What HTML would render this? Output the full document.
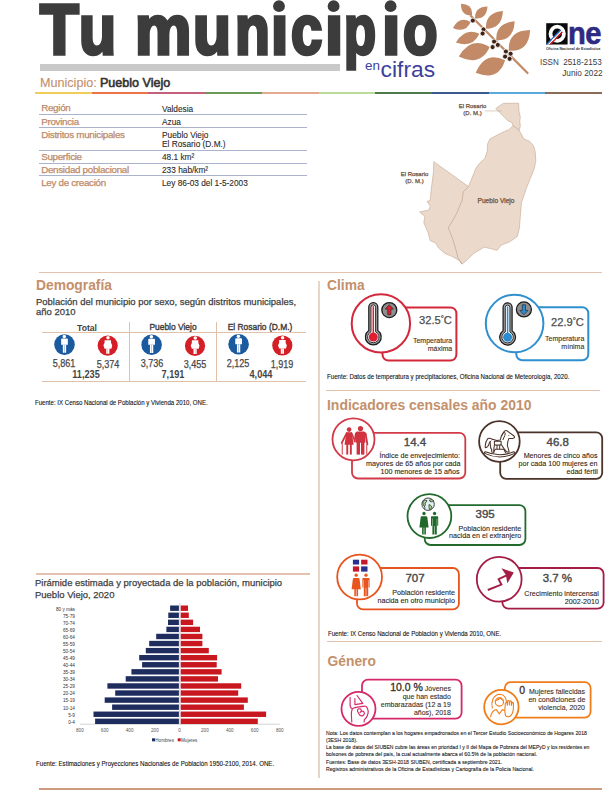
<!DOCTYPE html>
<html lang="es"><head><meta charset="utf-8"><title>Tu municipio en cifras - Pueblo Viejo</title>
<style>
html,body{margin:0;padding:0;background:#fff}
#pg{position:relative;width:612px;height:792px;overflow:hidden;background:#fff;font-family:"Liberation Sans", Arial, sans-serif}
.t{position:absolute;white-space:nowrap;line-height:1}
.tl{position:absolute;top:-5.9px;font-size:71px;line-height:1;font-weight:bold;color:#3c3c3c;-webkit-text-stroke:3.6px #3c3c3c;transform-origin:0 50%}
svg{overflow:visible}
</style></head><body><div id="pg">
<div style="position:absolute;left:0;top:0;width:612px;height:80px"><span class="tl" style="left:40.49px;transform:scaleX(0.893)">T</span><span class="tl" style="left:78.93px;transform:scaleX(0.855)">u</span><span class="tl" style="left:134.72px;transform:scaleX(0.893)">m</span><span class="tl" style="left:193.27px;transform:scaleX(0.876)">u</span><span class="tl" style="left:234.59px;transform:scaleX(0.803)">n</span><span class="tl" style="left:270.67px;transform:scaleX(0.877);clip-path:inset(20.4px -6px -20px -6px)">i</span><span class="tl" style="left:290.71px;transform:scaleX(0.792)">c</span><span class="tl" style="left:324.83px;transform:scaleX(0.923);clip-path:inset(20.4px -6px -20px -6px)">i</span><span class="tl" style="left:344.18px;transform:scaleX(0.738)">p</span><span class="tl" style="left:381.71px;transform:scaleX(0.931);clip-path:inset(20.4px -6px -20px -6px)">i</span><span class="tl" style="left:403.2px;transform:scaleX(0.795)">o</span></div>
<svg style="position:absolute;left:0;top:0" width="612" height="20"><g fill="#3c3c3c"><circle cx="279" cy="6.2" r="5.9"/><circle cx="333.6" cy="6.2" r="5.9"/><circle cx="390.6" cy="6.2" r="5.9"/></g></svg>
<div style="position:absolute;left:39.5px;top:63.5px;width:300px;height:7px;background:#c9c9c9"></div>
<div class="t" style="top:59.00px;font-size:13.5px;color:#3d3f9c;left:365.00px;">en</div>
<div class="t" style="top:58.00px;font-size:22.8px;color:#3d3f9c;left:380.60px;">cifras</div>
<div class="t" style="top:77.00px;font-size:12.6px;color:#c28f6b;left:40.00px;-webkit-text-stroke:0.1px currentColor;">Municipio:</div>
<div class="t" style="top:77.00px;font-size:12.6px;color:#333;left:100.40px;transform:scaleX(0.995);transform-origin:left 50%;-webkit-text-stroke:0.6px currentColor;">Pueblo Viejo</div>
<div style="position:absolute;left:35.00px;top:92.3px;width:56.8px;height:1.6px;background:#f0cc58"></div>
<div style="position:absolute;left:91.70px;top:92.3px;width:56.8px;height:1.6px;background:#ee7448"></div>
<div style="position:absolute;left:148.40px;top:92.3px;width:56.8px;height:1.6px;background:#c3607c"></div>
<div style="position:absolute;left:205.10px;top:92.3px;width:56.8px;height:1.6px;background:#6a9a56"></div>
<div style="position:absolute;left:261.80px;top:92.3px;width:56.8px;height:1.6px;background:#e3aa92"></div>
<div style="position:absolute;left:318.50px;top:92.3px;width:56.8px;height:1.6px;background:#b9dc98"></div>
<div style="position:absolute;left:375.20px;top:92.3px;width:56.8px;height:1.6px;background:#4b7a4b"></div>
<div style="position:absolute;left:431.90px;top:92.3px;width:56.8px;height:1.6px;background:#3b5a8c"></div>
<div style="position:absolute;left:488.60px;top:92.3px;width:56.8px;height:1.6px;background:#5aaadb"></div>
<div style="position:absolute;left:545.30px;top:92.3px;width:56.8px;height:1.6px;background:#8b6a58"></div>
<svg style="position:absolute;left:0;top:0" width="612" height="100"><line x1="471" y1="16" x2="527.5" y2="73" stroke="#c28a66" stroke-width="2.2" stroke-linecap="round"/><path fill="#c28a66" d="M472.0,15.4 Q473.4,4.2 461.0,3.7 Q460.7,16.1 472.0,15.4Z M475.0,18.4 Q486.6,19.4 487.5,6.6 Q474.7,6.8 475.0,18.4Z M470.6,22.0 Q459.7,15.7 452.9,27.9 Q465.6,33.6 470.6,22.0Z M486.0,28.7 Q502.1,28.8 502.9,11.0 Q485.1,12.6 486.0,28.7Z M479.4,33.8 Q464.9,27.2 455.9,42.6 Q472.8,48.3 479.4,33.8Z M496.3,40.4 Q513.9,40.8 514.7,21.3 Q495.3,22.8 496.3,40.4Z M489.7,47.0 Q470.9,35.6 458.8,56.6 Q480.7,67.0 489.7,47.0Z M508.8,50.7 Q529.0,52.4 530.1,30.1 Q507.8,30.5 508.8,50.7Z M505.1,60.3 Q485.2,50.1 475.7,72.8 Q498.6,81.7 505.1,60.3Z"/><circle cx="472.8" cy="20.6" r="2.5" fill="#3f2416" stroke="#fff" stroke-width="0.8"/><circle cx="483.5" cy="29.4" r="2.5" fill="#3f2416" stroke="#fff" stroke-width="0.8"/><circle cx="482.6" cy="33.5" r="2.5" fill="#3f2416" stroke="#fff" stroke-width="0.8"/><circle cx="494.1" cy="41.6" r="2.5" fill="#3f2416" stroke="#fff" stroke-width="0.8"/><circle cx="497.8" cy="44.9" r="2.5" fill="#3f2416" stroke="#fff" stroke-width="0.8"/><circle cx="492.6" cy="47.1" r="2.5" fill="#3f2416" stroke="#fff" stroke-width="0.8"/><circle cx="505.9" cy="51.5" r="2.5" fill="#3f2416" stroke="#fff" stroke-width="0.8"/><circle cx="510.6" cy="53.7" r="2.5" fill="#3f2416" stroke="#fff" stroke-width="0.8"/><circle cx="505.1" cy="56.6" r="2.5" fill="#3f2416" stroke="#fff" stroke-width="0.8"/><circle cx="509.6" cy="58.8" r="2.5" fill="#3f2416" stroke="#fff" stroke-width="0.8"/></svg>
<svg style="position:absolute;left:0;top:0" width="612" height="60">
<rect x="546.2" y="23.2" width="21.4" height="21.3" fill="#0a0a0a"/>
<ellipse cx="557.2" cy="33.8" rx="6.7" ry="7.1" fill="none" stroke="#fff" stroke-width="3.8"/>
<clipPath id="sq"><rect x="546.2" y="23.2" width="21.4" height="21.3"/></clipPath>
<g clip-path="url(#sq)"><g transform="rotate(-46 548 45)">
<rect x="546" y="43.0" width="21.5" height="1.35" fill="#1a6fd0"/>
<rect x="546" y="44.35" width="21.5" height="1.25" fill="#fff"/>
<rect x="546" y="45.6" width="21.5" height="1.4" fill="#e0141e"/>
</g></g>
</svg>
<div class="t" style="top:18.00px;font-size:30.5px;color:#2e2a82;font-weight:bold;letter-spacing:-0.6px;left:568.20px;transform:scaleX(0.955);transform-origin:left 50%;-webkit-text-stroke:0.6px #2e2a82;">ne</div>
<div class="t" style="top:48.00px;font-size:3.8px;color:#333;font-weight:bold;left:546.00px;transform:scaleX(0.965);transform-origin:left 50%;">Oficina Nacional de Estadística</div>
<div class="t" style="top:58.00px;font-size:8.3px;color:#3a3a3a;right:10.80px;text-align:right;transform:scaleX(0.97);transform-origin:right 50%;">ISSN&nbsp; 2518-2153</div>
<div class="t" style="top:69.00px;font-size:8.5px;color:#3a3a3a;right:9.00px;text-align:right;transform:scaleX(0.97);transform-origin:right 50%;">Junio 2022</div>
<div class="t" style="top:103.00px;font-size:9.8px;color:#bc8a69;letter-spacing:-0.3px;left:41.20px;-webkit-text-stroke:0.25px currentColor;">Región</div>
<div class="t" style="top:105.00px;font-size:8.7px;color:#2a2a2a;left:162.20px;transform:scaleX(0.955);transform-origin:left 50%;-webkit-text-stroke:0.1px currentColor;">Valdesia</div>
<div class="t" style="top:117.00px;font-size:9.8px;color:#bc8a69;letter-spacing:-0.3px;left:41.20px;-webkit-text-stroke:0.25px currentColor;">Provincia</div>
<div class="t" style="top:118.00px;font-size:8.7px;color:#2a2a2a;left:162.20px;transform:scaleX(0.955);transform-origin:left 50%;-webkit-text-stroke:0.1px currentColor;">Azua</div>
<div class="t" style="top:130.00px;font-size:9.8px;color:#bc8a69;letter-spacing:-0.3px;left:41.20px;-webkit-text-stroke:0.25px currentColor;">Distritos municipales</div>
<div class="t" style="top:131.00px;font-size:8.7px;color:#2a2a2a;left:162.20px;transform:scaleX(0.955);transform-origin:left 50%;-webkit-text-stroke:0.1px currentColor;">Pueblo Viejo</div>
<div class="t" style="top:140.00px;font-size:8.7px;color:#2a2a2a;left:162.20px;transform:scaleX(0.955);transform-origin:left 50%;-webkit-text-stroke:0.1px currentColor;">El Rosario (D.M.)</div>
<div class="t" style="top:152.00px;font-size:9.8px;color:#bc8a69;letter-spacing:-0.3px;left:41.20px;-webkit-text-stroke:0.25px currentColor;">Superficie</div>
<div class="t" style="top:153.00px;font-size:8.7px;color:#2a2a2a;left:162.20px;transform:scaleX(0.955);transform-origin:left 50%;-webkit-text-stroke:0.1px currentColor;">48.1 km²</div>
<div class="t" style="top:165.00px;font-size:9.8px;color:#bc8a69;letter-spacing:-0.3px;left:41.20px;-webkit-text-stroke:0.25px currentColor;">Densidad poblacional</div>
<div class="t" style="top:166.00px;font-size:8.7px;color:#2a2a2a;left:162.20px;transform:scaleX(0.955);transform-origin:left 50%;-webkit-text-stroke:0.1px currentColor;">233 hab/km²</div>
<div class="t" style="top:178.00px;font-size:9.8px;color:#bc8a69;letter-spacing:-0.3px;left:41.20px;-webkit-text-stroke:0.25px currentColor;">Ley de creación</div>
<div class="t" style="top:179.00px;font-size:8.7px;color:#2a2a2a;left:162.20px;transform:scaleX(0.955);transform-origin:left 50%;-webkit-text-stroke:0.1px currentColor;">Ley 86-03 del 1-5-2003</div>
<div style="position:absolute;left:39px;top:114.0px;width:267.5px;height:1.2px;background:#aab3cc"></div>
<div style="position:absolute;left:39px;top:126.9px;width:267.5px;height:1.2px;background:#aab3cc"></div>
<div style="position:absolute;left:39px;top:149.7px;width:267.5px;height:1.2px;background:#aab3cc"></div>
<div style="position:absolute;left:39px;top:162.6px;width:267.5px;height:1.2px;background:#aab3cc"></div>
<div style="position:absolute;left:39px;top:175.2px;width:267.5px;height:1.2px;background:#aab3cc"></div>
<svg style="position:absolute;left:0;top:0" width="612" height="792" viewBox="0 0 612 792">
<g fill="#ebdacb" stroke="#c2a690" stroke-width="0.6" stroke-linejoin="round">
<path d="M495.7,108.6 L503.2,103.4 L518.6,103.2 L519,111.4 L520.3,117.2 L519.8,120.6 L520.3,126.3 L519.2,130.3 L512.9,125.7 L512.3,122.9 L507.8,120.6 L499.7,112.6Z"/>
<path d="M512.9,125.7 L519.2,130.3 L523.8,138.9 L529.5,141.2 L533.5,145.8 L535.2,151.5 L535.8,160.6 L534.3,168.5 L530,179.1 L525.8,189.7 L521.5,202.5 L520.4,215.2 L519.4,228 L517.3,236.5 L509.8,241.8 L501.3,245 L497.1,250.3 L484.3,247.1 L473.7,253.5 L467.3,259.8 L462,264.1 L457.8,257.7 L455.7,249.2 L452.5,238.6 L448.2,228 L455.7,215.2 L462,200.4 L463.1,191.9 L468.4,186.5 L471.6,179.1 L475.8,168.5 L479.2,163.6 L484.9,158.4 L487.2,151.5 L487.7,143.5 L490,138.9 L498.6,134.3 L504.3,131.5 L508.9,129.7Z"/>
<path d="M433.8,161.7 L468.4,186.5 L463.1,191.9 L462,200.4 L455.7,215.2 L448.2,228 L452.5,238.6 L455.7,249.2 L457.8,257.7 L462,264.1 L459.9,260.9 L452.5,256.6 L445,253.5 L438.7,248.1 L435.5,242.8 L430.2,240.7 L428,232.2 L423.8,222.7 L424.9,216.3 L419.6,212 L429.1,209.9 L430.2,205.7 L427,201.4 L430.2,200.4 L431.2,189.7 L433.4,172.7Z"/>
</g>
<line x1="484.9" y1="110.9" x2="501.5" y2="110.9" stroke="#b8a090" stroke-width="0.5"/>
</svg>
<div class="t" style="top:103.00px;font-size:6px;color:#6a5040;left:172.50px;width:600px;text-align:center;-webkit-text-stroke:0.25px currentColor;">El Rosario</div>
<div class="t" style="top:110.00px;font-size:6px;color:#6a5040;left:172.50px;width:600px;text-align:center;-webkit-text-stroke:0.25px currentColor;">(D. M.)</div>
<div class="t" style="top:171.00px;font-size:6px;color:#6a5040;left:114.50px;width:600px;text-align:center;-webkit-text-stroke:0.25px currentColor;">El Rosario</div>
<div class="t" style="top:178.00px;font-size:6px;color:#6a5040;left:114.50px;width:600px;text-align:center;-webkit-text-stroke:0.25px currentColor;">(D. M.)</div>
<div class="t" style="top:198.00px;font-size:6.6px;color:#6e5240;left:196.00px;width:600px;text-align:center;-webkit-text-stroke:0.25px currentColor;">Pueblo Viejo</div>
<div style="position:absolute;left:39px;top:271.7px;width:562.5px;height:1.3px;background:#e3c2ae"></div>
<div style="position:absolute;left:317.9px;top:281px;width:2px;height:497px;background:#e7d5c8"></div>
<div class="t" style="top:279.00px;font-size:13.8px;color:#c4906c;font-weight:bold;left:36.00px;">Demografía</div>
<div class="t" style="top:297.00px;font-size:9.8px;color:#3e3e3e;left:35.50px;transform:scaleX(0.967);transform-origin:left 50%;-webkit-text-stroke:0.25px currentColor;">Población del municipio por sexo, según distritos municipales,</div>
<div class="t" style="top:307.00px;font-size:9.8px;color:#3e3e3e;left:35.50px;transform:scaleX(0.967);transform-origin:left 50%;-webkit-text-stroke:0.25px currentColor;">año 2010</div>
<div class="t" style="top:323.00px;font-size:9.6px;color:#444;font-weight:bold;left:-213.50px;width:600px;text-align:center;transform:scaleX(0.9);transform-origin:center 50%;">Total</div>
<div class="t" style="top:322.00px;font-size:9.8px;color:#3a3a3a;left:-126.60px;width:600px;text-align:center;transform:scaleX(0.86);transform-origin:center 50%;-webkit-text-stroke:0.4px currentColor;">Pueblo Viejo</div>
<div class="t" style="top:322.00px;font-size:9.8px;color:#3a3a3a;left:-39.60px;width:600px;text-align:center;transform:scaleX(0.86);transform-origin:center 50%;-webkit-text-stroke:0.4px currentColor;">El Rosario (D.M.)</div>
<div style="position:absolute;left:42.2px;top:332.2px;width:264px;height:1.3px;background:#e1c0aa"></div>
<div style="position:absolute;left:42.2px;top:380.9px;width:264px;height:1.3px;background:#e1c0aa"></div>
<div style="position:absolute;left:128.6px;top:322px;width:1.3px;height:59px;background:#e1c0aa"></div>
<div style="position:absolute;left:215.8px;top:322px;width:1.3px;height:59px;background:#e1c0aa"></div>
<svg style="position:absolute;left:0;top:0" width="612" height="792"><circle cx="64.5" cy="344.6" r="10.3" fill="#1b5a9f"/>
<g fill="#fff"><circle cx="64.30" cy="336.55" r="1.75"/>
<path d="M61.15,339.35 a0.8,0.8 0 0 1 0.8,-0.8 h5.1 a0.8,0.8 0 0 1 0.8,0.8 v5.3 h-6.7z"/>
<path d="M62.85,344.60 h1.5 v8.25 h-1.5z M64.65,344.60 h1.5 v8.25 h-1.5z"/></g><circle cx="107.7" cy="345.6" r="10.1" fill="#d41f27"/>
<g fill="#fff"><circle cx="108.00" cy="337.75" r="1.75"/>
<path d="M104.60,340.15 H111.00 L111.10,343.00 L112.20,345.25 L111.40,348.65 H104.60 L103.40,345.25 L104.50,343.00Z"/>
<path d="M106.20,348.60 h1.5 v5.25 h-1.5z M107.90,348.60 h1.5 v5.25 h-1.5z"/></g><circle cx="151.6" cy="344.7" r="10.3" fill="#1b5a9f"/>
<g fill="#fff"><circle cx="151.40" cy="336.65" r="1.75"/>
<path d="M148.25,339.45 a0.8,0.8 0 0 1 0.8,-0.8 h5.1 a0.8,0.8 0 0 1 0.8,0.8 v5.3 h-6.7z"/>
<path d="M149.95,344.70 h1.5 v8.25 h-1.5z M151.75,344.70 h1.5 v8.25 h-1.5z"/></g><circle cx="195.0" cy="345.8" r="10.1" fill="#d41f27"/>
<g fill="#fff"><circle cx="195.30" cy="337.95" r="1.75"/>
<path d="M191.90,340.35 H198.30 L198.40,343.20 L199.50,345.45 L198.70,348.85 H191.90 L190.70,345.45 L191.80,343.20Z"/>
<path d="M193.50,348.80 h1.5 v5.25 h-1.5z M195.20,348.80 h1.5 v5.25 h-1.5z"/></g><circle cx="238.6" cy="344.3" r="10.3" fill="#1b5a9f"/>
<g fill="#fff"><circle cx="238.40" cy="336.25" r="1.75"/>
<path d="M235.25,339.05 a0.8,0.8 0 0 1 0.8,-0.8 h5.1 a0.8,0.8 0 0 1 0.8,0.8 v5.3 h-6.7z"/>
<path d="M236.95,344.30 h1.5 v8.25 h-1.5z M238.75,344.30 h1.5 v8.25 h-1.5z"/></g><circle cx="282.3" cy="345.5" r="10.1" fill="#d41f27"/>
<g fill="#fff"><circle cx="282.60" cy="337.65" r="1.75"/>
<path d="M279.20,340.05 H285.60 L285.70,342.90 L286.80,345.15 L286.00,348.55 H279.20 L278.00,345.15 L279.10,342.90Z"/>
<path d="M280.80,348.50 h1.5 v5.25 h-1.5z M282.50,348.50 h1.5 v5.25 h-1.5z"/></g></svg>
<div class="t" style="top:359.00px;font-size:10.2px;color:#484848;left:-235.70px;width:600px;text-align:center;transform:scaleX(0.89);transform-origin:center 50%;-webkit-text-stroke:0.25px currentColor;">5,861</div>
<div class="t" style="top:360.00px;font-size:10.2px;color:#484848;left:-192.00px;width:600px;text-align:center;transform:scaleX(0.89);transform-origin:center 50%;-webkit-text-stroke:0.25px currentColor;">5,374</div>
<div class="t" style="top:370.00px;font-size:10.2px;color:#444;font-weight:bold;left:-213.60px;width:600px;text-align:center;transform:scaleX(0.9);transform-origin:center 50%;">11,235</div>
<div class="t" style="top:359.00px;font-size:10.2px;color:#484848;left:-148.40px;width:600px;text-align:center;transform:scaleX(0.89);transform-origin:center 50%;-webkit-text-stroke:0.25px currentColor;">3,736</div>
<div class="t" style="top:360.00px;font-size:10.2px;color:#484848;left:-104.90px;width:600px;text-align:center;transform:scaleX(0.89);transform-origin:center 50%;-webkit-text-stroke:0.25px currentColor;">3,455</div>
<div class="t" style="top:370.00px;font-size:10.2px;color:#444;font-weight:bold;left:-126.60px;width:600px;text-align:center;transform:scaleX(0.9);transform-origin:center 50%;">7,191</div>
<div class="t" style="top:359.00px;font-size:10.2px;color:#484848;left:-61.60px;width:600px;text-align:center;transform:scaleX(0.89);transform-origin:center 50%;-webkit-text-stroke:0.25px currentColor;">2,125</div>
<div class="t" style="top:360.00px;font-size:10.2px;color:#484848;left:-17.80px;width:600px;text-align:center;transform:scaleX(0.89);transform-origin:center 50%;-webkit-text-stroke:0.25px currentColor;">1,919</div>
<div class="t" style="top:370.00px;font-size:10.2px;color:#444;font-weight:bold;left:-39.50px;width:600px;text-align:center;transform:scaleX(0.9);transform-origin:center 50%;">4,044</div>
<div class="t" style="top:400.00px;font-size:6.8px;color:#111;left:35.00px;transform:scaleX(0.895);transform-origin:left 50%;-webkit-text-stroke:0.1px currentColor;">Fuente: IX Censo Nacional de Población y Vivienda 2010, ONE.</div>
<div style="position:absolute;left:36px;top:573.4px;width:274px;height:1.3px;background:#e3c2ae"></div>
<div class="t" style="top:578.00px;font-size:9.9px;color:#3e3e3e;left:35.30px;transform:scaleX(0.96);transform-origin:left 50%;-webkit-text-stroke:0.25px currentColor;">Pirámide estimada y proyectada de la población, municipio</div>
<div class="t" style="top:590.00px;font-size:9.9px;color:#3e3e3e;left:35.30px;transform:scaleX(0.96);transform-origin:left 50%;-webkit-text-stroke:0.25px currentColor;">Pueblo Viejo, 2020</div>
<svg style="position:absolute;left:0;top:0" width="612" height="792"><line x1="179.8" y1="603" x2="179.8" y2="724" stroke="#c8c8c8" stroke-width="0.8"/><line x1="79.9" y1="724.2" x2="279.8" y2="724.2" stroke="#c8c8c8" stroke-width="0.8"/><rect x="170.1" y="605.50" width="8.80" height="5.4" fill="#1f2c5e"/><rect x="180.7" y="605.50" width="7.30" height="5.4" fill="#c8171f"/><rect x="168.3" y="612.57" width="10.60" height="5.4" fill="#1f2c5e"/><rect x="180.7" y="612.57" width="8.10" height="5.4" fill="#c8171f"/><rect x="168" y="619.64" width="10.90" height="5.4" fill="#1f2c5e"/><rect x="180.7" y="619.64" width="12.40" height="5.4" fill="#c8171f"/><rect x="166.4" y="626.71" width="12.50" height="5.4" fill="#1f2c5e"/><rect x="180.7" y="626.71" width="19.30" height="5.4" fill="#c8171f"/><rect x="156.2" y="633.78" width="22.70" height="5.4" fill="#1f2c5e"/><rect x="180.7" y="633.78" width="21.70" height="5.4" fill="#c8171f"/><rect x="149.2" y="640.85" width="29.70" height="5.4" fill="#1f2c5e"/><rect x="180.7" y="640.85" width="21.70" height="5.4" fill="#c8171f"/><rect x="145.8" y="647.92" width="33.10" height="5.4" fill="#1f2c5e"/><rect x="180.7" y="647.92" width="28.10" height="5.4" fill="#c8171f"/><rect x="139.2" y="654.99" width="39.70" height="5.4" fill="#1f2c5e"/><rect x="180.7" y="654.99" width="36.40" height="5.4" fill="#c8171f"/><rect x="142.1" y="662.06" width="36.80" height="5.4" fill="#1f2c5e"/><rect x="180.7" y="662.06" width="36.00" height="5.4" fill="#c8171f"/><rect x="131.4" y="669.13" width="47.50" height="5.4" fill="#1f2c5e"/><rect x="180.7" y="669.13" width="40.90" height="5.4" fill="#c8171f"/><rect x="125.7" y="676.20" width="53.20" height="5.4" fill="#1f2c5e"/><rect x="180.7" y="676.20" width="37.30" height="5.4" fill="#c8171f"/><rect x="107.4" y="683.27" width="71.50" height="5.4" fill="#1f2c5e"/><rect x="180.7" y="683.27" width="60.50" height="5.4" fill="#c8171f"/><rect x="115.2" y="690.34" width="63.70" height="5.4" fill="#1f2c5e"/><rect x="180.7" y="690.34" width="57.50" height="5.4" fill="#c8171f"/><rect x="104.7" y="697.41" width="74.20" height="5.4" fill="#1f2c5e"/><rect x="180.7" y="697.41" width="67.10" height="5.4" fill="#c8171f"/><rect x="112.1" y="704.48" width="66.80" height="5.4" fill="#1f2c5e"/><rect x="180.7" y="704.48" width="63.20" height="5.4" fill="#c8171f"/><rect x="93.5" y="711.55" width="85.40" height="5.4" fill="#1f2c5e"/><rect x="180.7" y="711.55" width="85.40" height="5.4" fill="#c8171f"/><rect x="95.1" y="718.62" width="83.80" height="5.4" fill="#1f2c5e"/><rect x="180.7" y="718.62" width="77.10" height="5.4" fill="#c8171f"/><rect x="152" y="738.3" width="3" height="3" fill="#1f2c5e"/><rect x="177.7" y="738.3" width="3" height="3" fill="#c8171f"/></svg>
<div class="t" style="top:608.00px;font-size:4.7px;color:#333;right:537.10px;text-align:right;">80 y más</div>
<div class="t" style="top:615.00px;font-size:4.7px;color:#333;right:537.10px;text-align:right;">75-79</div>
<div class="t" style="top:622.00px;font-size:4.7px;color:#333;right:537.10px;text-align:right;">70-74</div>
<div class="t" style="top:629.00px;font-size:4.7px;color:#333;right:537.10px;text-align:right;">65-69</div>
<div class="t" style="top:636.00px;font-size:4.7px;color:#333;right:537.10px;text-align:right;">60-64</div>
<div class="t" style="top:643.00px;font-size:4.7px;color:#333;right:537.10px;text-align:right;">55-59</div>
<div class="t" style="top:650.00px;font-size:4.7px;color:#333;right:537.10px;text-align:right;">50-54</div>
<div class="t" style="top:657.00px;font-size:4.7px;color:#333;right:537.10px;text-align:right;">45-49</div>
<div class="t" style="top:664.00px;font-size:4.7px;color:#333;right:537.10px;text-align:right;">40-44</div>
<div class="t" style="top:671.00px;font-size:4.7px;color:#333;right:537.10px;text-align:right;">35-39</div>
<div class="t" style="top:678.00px;font-size:4.7px;color:#333;right:537.10px;text-align:right;">30-34</div>
<div class="t" style="top:685.00px;font-size:4.7px;color:#333;right:537.10px;text-align:right;">25-29</div>
<div class="t" style="top:692.00px;font-size:4.7px;color:#333;right:537.10px;text-align:right;">20-24</div>
<div class="t" style="top:699.00px;font-size:4.7px;color:#333;right:537.10px;text-align:right;">15-19</div>
<div class="t" style="top:707.00px;font-size:4.7px;color:#333;right:537.10px;text-align:right;">10-14</div>
<div class="t" style="top:714.00px;font-size:4.7px;color:#333;right:537.10px;text-align:right;">5-9</div>
<div class="t" style="top:721.00px;font-size:4.7px;color:#333;right:537.10px;text-align:right;">0-4</div>
<div class="t" style="top:729.00px;font-size:4.6px;color:#555;left:-220.10px;width:600px;text-align:center;">800</div>
<div class="t" style="top:729.00px;font-size:4.6px;color:#555;left:-195.30px;width:600px;text-align:center;">600</div>
<div class="t" style="top:729.00px;font-size:4.6px;color:#555;left:-170.40px;width:600px;text-align:center;">400</div>
<div class="t" style="top:729.00px;font-size:4.6px;color:#555;left:-145.10px;width:600px;text-align:center;">200</div>
<div class="t" style="top:729.00px;font-size:4.6px;color:#555;left:-120.60px;width:600px;text-align:center;">0</div>
<div class="t" style="top:729.00px;font-size:4.6px;color:#555;left:-95.10px;width:600px;text-align:center;">200</div>
<div class="t" style="top:729.00px;font-size:4.6px;color:#555;left:-70.20px;width:600px;text-align:center;">400</div>
<div class="t" style="top:729.00px;font-size:4.6px;color:#555;left:-45.30px;width:600px;text-align:center;">600</div>
<div class="t" style="top:729.00px;font-size:4.6px;color:#555;left:-20.20px;width:600px;text-align:center;">800</div>
<div class="t" style="top:739.00px;font-size:4.6px;color:#444;left:155.30px;">Hombres</div>
<div class="t" style="top:739.00px;font-size:4.6px;color:#444;left:181.00px;">Mujeres</div>
<div class="t" style="top:761.00px;font-size:6.8px;color:#111;left:35.80px;transform:scaleX(0.903);transform-origin:left 50%;-webkit-text-stroke:0.1px currentColor;">Fuente: Estimaciones y Proyecciones Nacionales de Población 1950-2100, 2014. ONE.</div>
<div style="position:absolute;left:38.9px;top:788.2px;width:562.7px;height:2px;background:#cf9b7d"></div>
<div class="t" style="top:279.00px;font-size:13.8px;color:#c4906c;font-weight:bold;left:327.00px;">Clima</div>
<svg style="position:absolute;left:0;top:0" width="612" height="792"><rect x="382.5" y="307.4" width="73.89999999999998" height="53.200000000000045" rx="6" fill="#fff" stroke="#d3283a" stroke-width="2"/><circle cx="380.9" cy="323.4" r="29.2" fill="#fff" stroke="#d3283a" stroke-width="2"/><path d="M368.80,330.51 V307.10 A4.5,4.5 0 0 1 377.80,307.10 V330.51 A7.9,7.9 0 1 1 368.80,330.51Z" fill="#a3a3a5" stroke="#1c1c1c" stroke-width="1.25"/><path d="M371.00,331.78 V307.20 A2.3,2.3 0 0 1 375.60,307.20 V331.78 A5.7,5.7 0 1 1 371.00,331.78Z" fill="#fff" stroke="#1c1c1c" stroke-width="0.9"/><line x1="373.3" y1="306.20000000000005" x2="373.3" y2="337.0" stroke="#e01e32" stroke-width="1.5"/><circle cx="373.3" cy="337.0" r="4.5" fill="#e01e32"/><circle cx="389.3" cy="310.1" r="7.5" fill="#8e8e90" stroke="#1c1c1c" stroke-width="1.3"/><path d="M389.3,304.70000000000005 l4.1,4.4 h-2.5 v5.6 h-3.2 v-5.6 h-2.5z" fill="#e01e32" stroke="#1c1c1c" stroke-width="0.6" stroke-linejoin="round"/><rect x="516.3" y="307.2" width="72.0" height="53.10000000000002" rx="6" fill="#fff" stroke="#2f90d0" stroke-width="2"/><circle cx="514.6" cy="323.5" r="28.8" fill="#fff" stroke="#2f90d0" stroke-width="2"/><path d="M503.10,330.71 V307.30 A4.5,4.5 0 0 1 512.10,307.30 V330.71 A7.9,7.9 0 1 1 503.10,330.71Z" fill="#a3a3a5" stroke="#1c1c1c" stroke-width="1.25"/><path d="M505.30,331.98 V307.40 A2.3,2.3 0 0 1 509.90,307.40 V331.98 A5.7,5.7 0 1 1 505.30,331.98Z" fill="#fff" stroke="#1c1c1c" stroke-width="0.9"/><line x1="507.6" y1="306.40000000000003" x2="507.6" y2="337.2" stroke="#2b8bd0" stroke-width="1.5"/><circle cx="507.6" cy="337.2" r="4.5" fill="#2b8bd0"/><circle cx="523.9" cy="309.4" r="7.5" fill="#8e8e90" stroke="#1c1c1c" stroke-width="1.3"/><path d="M523.9,314.79999999999995 l4.1,-4.4 h-2.5 v-5.6 h-3.2 v5.6 h-2.5z" fill="#2b8bd0" stroke="#1c1c1c" stroke-width="0.6" stroke-linejoin="round"/></svg>
<div class="t" style="top:315.00px;font-size:11.5px;color:#4d4d4d;right:160.10px;text-align:right;transform:scaleX(0.97);transform-origin:right 50%;-webkit-text-stroke:0.25px currentColor;">32.5<span style="font-size:8px;position:relative;top:-3px">°</span>C</div>
<div class="t" style="top:337.00px;font-size:7px;color:#3a3028;right:159.80px;text-align:right;-webkit-text-stroke:0.1px currentColor;">Temperatura</div>
<div class="t" style="top:345.00px;font-size:7px;color:#3a3028;right:159.80px;text-align:right;-webkit-text-stroke:0.1px currentColor;">máxima</div>
<div class="t" style="top:317.00px;font-size:11.5px;color:#4d4d4d;right:27.80px;text-align:right;transform:scaleX(0.97);transform-origin:right 50%;-webkit-text-stroke:0.25px currentColor;">22.9<span style="font-size:8px;position:relative;top:-3px">°</span>C</div>
<div class="t" style="top:335.00px;font-size:7px;color:#3a3028;right:27.70px;text-align:right;-webkit-text-stroke:0.1px currentColor;">Temperatura</div>
<div class="t" style="top:343.00px;font-size:7px;color:#3a3028;right:27.70px;text-align:right;-webkit-text-stroke:0.1px currentColor;">mínima</div>
<div class="t" style="top:374.00px;font-size:6.7px;color:#111;left:326.90px;transform:scaleX(0.918);transform-origin:left 50%;-webkit-text-stroke:0.1px currentColor;">Fuente: Datos de temperatura y precipitaciones, Oficina Nacional de Meteorología, 2020.</div>
<div style="position:absolute;left:325.5px;top:390px;width:274px;height:1.3px;background:#e3c2ae"></div>
<div class="t" style="top:399.00px;font-size:13.8px;color:#c4906c;font-weight:bold;left:326.70px;transform:scaleX(1.01);transform-origin:left 50%;">Indicadores censales año 2010</div>
<svg style="position:absolute;left:0;top:0" width="612" height="792"><rect x="352" y="432.8" width="113.30000000000001" height="45.69999999999999" rx="6" fill="#fff" stroke="#d23a48" stroke-width="1.8"/><circle cx="353.5" cy="439.3" r="21" fill="#fff" stroke="#d23a48" stroke-width="1.8"/><rect x="500.2" y="432.4" width="102.00000000000006" height="46.400000000000034" rx="6" fill="#fff" stroke="#4b3329" stroke-width="1.8"/><circle cx="499.4" cy="441.5" r="20.3" fill="#fff" stroke="#4b3329" stroke-width="1.8"/><rect x="424.7" y="505.2" width="100.69999999999999" height="39.80000000000001" rx="6" fill="#fff" stroke="#226a2d" stroke-width="1.8"/><circle cx="429.4" cy="516.1" r="21.9" fill="#fff" stroke="#226a2d" stroke-width="1.8"/><rect x="357" y="568" width="101.89999999999998" height="41.39999999999998" rx="6" fill="#fff" stroke="#e8541e" stroke-width="1.8"/><circle cx="359.6" cy="577.0" r="22.4" fill="#fff" stroke="#e8541e" stroke-width="1.8"/><rect x="502.4" y="568" width="101.20000000000005" height="40.60000000000002" rx="6" fill="#fff" stroke="#a31d45" stroke-width="1.8"/><circle cx="499.2" cy="579.2" r="22.4" fill="#fff" stroke="#a31d45" stroke-width="1.8"/><circle cx="349.1" cy="429.6" r="2.3" fill="#d0323f"/><path d="M346.4,432.3 h5.4 l1.9,12.4 h-9.2z" fill="#d0323f"/><rect x="346.3" y="444" width="1.9" height="10.6" fill="#d0323f"/><rect x="349.9" y="444" width="1.9" height="10.6" fill="#d0323f"/><path d="M346.8,433 L341.7,443" stroke="#d0323f" stroke-width="1.7" stroke-linecap="round"/><path d="M342.3,443.5 V454.6" stroke="#d0323f" stroke-width="1.2" opacity="0.8"/><path d="M351.6,433 L354.8,441" stroke="#d0323f" stroke-width="1.5" stroke-linecap="round"/><circle cx="360.5" cy="428.6" r="2.6" fill="#d0323f"/><path d="M355.6,433 a1.5,1.5 0 0 1 1.5,-1.5 h6.8 a1.5,1.5 0 0 1 1.5,1.5 v9.8 h-9.8z" fill="#d0323f"/><rect x="356.6" y="442" width="3.4" height="12.6" fill="#d0323f"/><rect x="361" y="442" width="3.4" height="12.6" fill="#d0323f"/><path d="M365.6,433.5 L367.4,444.3" stroke="#d0323f" stroke-width="1.8" stroke-linecap="round"/><path d="M366.7,444.5 V454.6" stroke="#d0323f" stroke-width="1.2" opacity="0.8"/><path d="M355.8,433.5 L354.6,441.5" stroke="#d0323f" stroke-width="1.7" stroke-linecap="round"/><path d="M485.4,451.8 Q499.6,457.6 513.8,451.8 Q515.2,452.2 514.4,453.4 Q499.6,460.6 484.8,453.4 Q484,452.2 485.4,451.8z" fill="#fff" stroke="#4b3329" stroke-width="1.05" stroke-linejoin="round" stroke-linecap="round"/><path d="M493.5,452.6 L495.2,449.2 H503.8 L505.5,452.6" fill="#fff" stroke="#4b3329" stroke-width="1.05" stroke-linejoin="round" stroke-linecap="round"/><path d="M497,444.8 V449.1 M499.7,444.8 V449.1" stroke="#4b3329" stroke-width="1"/><path d="M490.2,441.4 Q491,439.4 492.6,439.3 L496.7,440.4 L500.2,440.1 L501.4,436 L504.2,431.4 Q505.6,430.2 506.8,430.7 L514.1,436 Q514.8,437.2 514.2,437.8 L512.6,438.6 L508.9,438.4 L507.9,441.3 L507.3,445.4 L508.2,448.4 L509.2,451.9 L506.6,451.9 L503.8,448.4 L501.4,444.8 L494.4,444.8 L493.8,449.5 L493.8,452.2 L491.7,451.9 L491.7,449.4 L490.8,448.4 L490.2,443.6z" fill="#fff" stroke="#4b3329" stroke-width="1.05" stroke-linejoin="round" stroke-linecap="round"/><path d="M492.4,439.4 Q489.6,437.6 487.6,438.8 Q485.6,441.2 485.2,446 L485.3,447.8 Q487,447.6 487.9,446.3 Q489,444.6 489.1,443.6 Q489.4,442 490.3,441.4" fill="#fff" stroke="#4b3329" stroke-width="1.05" stroke-linejoin="round" stroke-linecap="round"/><path d="M494.4,441.3 H501.1 V443.8 Q501.1,444.9 500,444.9 H495.5 Q494.4,444.9 494.4,443.8z" fill="#fff" stroke="#4b3329" stroke-width="1.05" stroke-linejoin="round" stroke-linecap="round"/><path d="M501.5,436.2 L503.4,432.4 Q504.6,431.6 505.2,433 L504.9,435.4 L502.8,440" fill="none" stroke="#4b3329" stroke-width="1" stroke-linejoin="round"/><circle cx="508.8" cy="435.4" r="0.5" fill="#4b3329"/><circle cx="428.1" cy="504.2" r="6.2" fill="#e4f1f4" stroke="#28302a" stroke-width="0.9"/><path d="M423,501.5 q2,-2.5 4,-1 q-0.5,2 -2,2.5 q1,2 -0.5,3.5 q-1.5,-1 -1.5,-3z" fill="#a8d890" stroke="#28302a" stroke-width="0.75"/><path d="M429.5,500 q2.5,-1.2 4.3,0.8 q-1,1.2 -2.6,1 q-1.4,0.4 -1.7,-1.8z" fill="#a8d890" stroke="#28302a" stroke-width="0.75"/><path d="M429,504.5 q2,0.5 3,2.5 q-0.5,2.2 -2.5,2.8 q-0.8,-2.5 -0.5,-5.3z" fill="#a8d890" stroke="#28302a" stroke-width="0.75"/><path d="M424.2,505.8 q1.2,1.8 0.5,3.6" fill="none" stroke="#28302a" stroke-width="0.75"/><circle cx="424.0" cy="513.5" r="1.65" fill="#1f6a2b"/><path d="M421.80,516.20 H426.20 Q427.10,516.20 427.30,517.10 L428.60,527.60 H425.90 V534.60 H424.30 V527.60 H423.70 V534.60 H422.10 V527.60 H419.40 L420.70,517.10 Q420.90,516.20 421.80,516.20Z" fill="#1f6a2b"/><circle cx="434.6" cy="513.5" r="1.65" fill="#1f6a2b"/><path d="M431.80,516.20 H437.40 Q438.20,516.20 438.20,517.00 V525.70 H437.20 V518.50 H436.80 V534.60 H434.85 V526.10 H434.35 V534.60 H432.40 V518.50 H432.00 V525.70 H431.00 V517.00 Q431.00,516.20 431.80,516.20Z" fill="#1f6a2b"/><rect x="352.9" y="559.7" width="6.2" height="4.8" fill="#2b2f8f"/><rect x="361.1" y="559.7" width="6.4" height="4.8" fill="#c8182c"/><rect x="352.9" y="566.4" width="6.2" height="5.2" fill="#c8182c"/><rect x="361.1" y="566.4" width="6.4" height="5.2" fill="#2b2f8f"/><circle cx="356.2" cy="575.2" r="1.65" fill="#e8541e"/><path d="M354.00,577.90 H358.40 Q359.30,577.90 359.50,578.80 L360.80,589.30 H358.10 V596.30 H356.50 V589.30 H355.90 V596.30 H354.30 V589.30 H351.60 L352.90,578.80 Q353.10,577.90 354.00,577.90Z" fill="#e8541e"/><circle cx="366.0" cy="575.2" r="1.65" fill="#e8541e"/><path d="M363.20,577.90 H368.80 Q369.60,577.90 369.60,578.70 V587.40 H368.60 V580.20 H368.20 V596.30 H366.25 V587.80 H365.75 V596.30 H363.80 V580.20 H363.40 V587.40 H362.40 V578.70 Q362.40,577.90 363.20,577.90Z" fill="#e8541e"/><path d="M487.8,590 L501.4,584.6 L498.6,579.2 L507.6,574.8" fill="none" stroke="#a31d45" stroke-width="1.9" stroke-linejoin="miter"/><path d="M513.8,572.4 L501.4,568.3 L505.8,574.8 L507.4,583.2z" fill="#a31d45"/></svg>
<div class="t" style="top:437.00px;font-size:11.5px;color:#4a4a4a;left:115.00px;width:600px;text-align:center;-webkit-text-stroke:0.4px currentColor;">14.4</div>
<div class="t" style="top:453.00px;font-size:7.15px;color:#2e2620;right:152.00px;text-align:right;-webkit-text-stroke:0.1px currentColor;">Índice de envejecimiento:</div>
<div class="t" style="top:461.00px;font-size:7.15px;color:#2e2620;right:151.50px;text-align:right;-webkit-text-stroke:0.1px currentColor;">mayores de 65 años por cada</div>
<div class="t" style="top:469.00px;font-size:7.15px;color:#2e2620;right:152.50px;text-align:right;-webkit-text-stroke:0.1px currentColor;">100 menores de 15 años</div>
<div class="t" style="top:437.00px;font-size:11.5px;color:#4a4a4a;left:257.70px;width:600px;text-align:center;-webkit-text-stroke:0.4px currentColor;">46.8</div>
<div class="t" style="top:453.00px;font-size:7.15px;color:#2e2620;right:14.50px;text-align:right;-webkit-text-stroke:0.1px currentColor;">Menores de cinco años</div>
<div class="t" style="top:461.00px;font-size:7.15px;color:#2e2620;right:14.50px;text-align:right;-webkit-text-stroke:0.1px currentColor;">por cada 100 mujeres en</div>
<div class="t" style="top:469.00px;font-size:7.15px;color:#2e2620;right:14.20px;text-align:right;-webkit-text-stroke:0.1px currentColor;">edad fértil</div>
<div class="t" style="top:509.00px;font-size:11.5px;color:#4a4a4a;left:185.10px;width:600px;text-align:center;-webkit-text-stroke:0.4px currentColor;">395</div>
<div class="t" style="top:526.00px;font-size:7.15px;color:#2e2620;right:90.70px;text-align:right;-webkit-text-stroke:0.1px currentColor;">Población residente</div>
<div class="t" style="top:533.00px;font-size:7.15px;color:#2e2620;right:90.70px;text-align:right;-webkit-text-stroke:0.1px currentColor;">nacida en el extranjero</div>
<div class="t" style="top:573.00px;font-size:11.5px;color:#4a4a4a;left:115.00px;width:600px;text-align:center;-webkit-text-stroke:0.4px currentColor;">707</div>
<div class="t" style="top:590.00px;font-size:7.15px;color:#2e2620;right:157.10px;text-align:right;-webkit-text-stroke:0.1px currentColor;">Población residente</div>
<div class="t" style="top:598.00px;font-size:7.15px;color:#2e2620;right:157.10px;text-align:right;-webkit-text-stroke:0.1px currentColor;">nacida en otro municipio</div>
<div class="t" style="top:573.00px;font-size:11.5px;color:#4a4a4a;left:257.40px;width:600px;text-align:center;-webkit-text-stroke:0.4px currentColor;">3.7 %</div>
<div class="t" style="top:591.00px;font-size:7.15px;color:#2e2620;right:13.10px;text-align:right;-webkit-text-stroke:0.1px currentColor;">Crecimiento intercensal</div>
<div class="t" style="top:599.00px;font-size:7.15px;color:#2e2620;right:13.10px;text-align:right;-webkit-text-stroke:0.1px currentColor;">2002-2010</div>
<div class="t" style="top:631.00px;font-size:6.8px;color:#111;left:327.60px;transform:scaleX(0.898);transform-origin:left 50%;-webkit-text-stroke:0.1px currentColor;">Fuente: IX Censo Nacional de Población y Vivienda 2010, ONE.</div>
<div style="position:absolute;left:327px;top:640.8px;width:274.6px;height:1.3px;background:#e3c2ae"></div>
<div class="t" style="top:655.00px;font-size:13.8px;color:#c4906c;font-weight:bold;left:327.60px;">Género</div>
<svg style="position:absolute;left:0;top:0" width="612" height="792"><rect x="362" y="679.7" width="99.60000000000002" height="38.89999999999998" rx="6" fill="#fff" stroke="#d42a6a" stroke-width="1.8"/><circle cx="358.5" cy="708.8" r="17.0" fill="#fff" stroke="#d42a6a" stroke-width="1.8"/><rect x="504.8" y="682.1" width="85.80000000000001" height="35.5" rx="6" fill="#fff" stroke="#f07d1a" stroke-width="1.8"/><circle cx="501.4" cy="707.1" r="17.2" fill="#fff" stroke="#f07d1a" stroke-width="1.8"/><path d="M350.1,697.3 V705.4 Q350.3,708.2 352.3,709 Q351,712 351.4,715.5 L351.8,722" fill="none" stroke="#d42a6a" stroke-width="1.15" stroke-linecap="round" stroke-linejoin="round"/><path d="M354.9,698.5 V704.6 L362.8,703.4 L357,695.5" fill="none" stroke="#d42a6a" stroke-width="1.15" stroke-linecap="round" stroke-linejoin="round"/><path d="M352.6,708.6 Q356,706.8 359.6,706.9 Q365.2,705.6 366.2,706.4 Q369.4,710.4 367.4,715.6 Q365.6,718.8 364.4,719.6 L364.1,722" fill="none" stroke="#d42a6a" stroke-width="1.15" stroke-linecap="round" stroke-linejoin="round"/><path d="M358.2,712.5 Q356.5,710 358.8,708.8 Q361.2,708.4 361.2,710.6" fill="none" stroke="#d42a6a" stroke-width="1.15" stroke-linecap="round" stroke-linejoin="round"/><path d="M358.4,713.2 Q360.2,716.6 363,715.6 Q365.4,713.8 363.6,711.6 Q361.4,710.4 360,712.6" fill="none" stroke="#d42a6a" stroke-width="1.15" stroke-linecap="round" stroke-linejoin="round"/><path d="M492.3,708 Q491,703.6 493,699 Q495.6,694.2 499.6,694.2 Q504,694.4 505.8,698.6 Q506.8,701.6 506.2,704.6" fill="none" stroke="#f07d1a" stroke-width="1.1" stroke-linecap="round" stroke-linejoin="round"/><circle cx="499.4" cy="702" r="4.1" fill="none" stroke="#f07d1a" stroke-width="1.1" stroke-linecap="round" stroke-linejoin="round"/><path d="M495.4,700.6 Q498.4,700.2 500.6,697.8 Q501.6,700 503.4,700.4" fill="none" stroke="#f07d1a" stroke-width="1.1" stroke-linecap="round" stroke-linejoin="round"/><path d="M490.6,716.8 Q491.6,711.2 496.2,709.6 L499.4,713.8 L502.4,709.6 Q503.4,710 504.2,710.6" fill="none" stroke="#f07d1a" stroke-width="1.1" stroke-linecap="round" stroke-linejoin="round"/><path d="M505.6,715.6 Q504.4,711 505,707.6 L505.4,703 Q506.2,702 507,703 L507.4,705.2 L507.6,701 Q508.4,700 509.2,701 L509.4,705 L509.8,701.2 Q510.6,700.4 511.4,701.4 L511.4,705.4 L512,702.6 Q512.8,702 513.4,703 L513.4,709 Q513,713.6 510.6,716 Q507.6,717.6 505.6,715.6z" fill="#fff" stroke="#f07d1a" stroke-width="1.1" stroke-linejoin="round"/></svg>
<div class="t" style="top:685.00px;font-size:7px;color:#3a2e26;right:161.10px;text-align:right;-webkit-text-stroke:0.1px currentColor;"><span style="font-size:10.5px;line-height:1px;-webkit-text-stroke:0.3px currentColor">10.0 %</span> Jóvenes</div>
<div class="t" style="top:693.00px;font-size:7px;color:#3a2e26;right:161.10px;text-align:right;-webkit-text-stroke:0.1px currentColor;">que han estado</div>
<div class="t" style="top:701.00px;font-size:7px;color:#3a2e26;right:161.10px;text-align:right;-webkit-text-stroke:0.1px currentColor;">embarazadas (12 a 19</div>
<div class="t" style="top:709.00px;font-size:7px;color:#3a2e26;right:161.10px;text-align:right;-webkit-text-stroke:0.1px currentColor;">años), 2018</div>
<div class="t" style="top:688.00px;font-size:7px;color:#3a2e26;right:27.00px;text-align:right;-webkit-text-stroke:0.1px currentColor;"><span style="font-size:10.5px;line-height:1px;-webkit-text-stroke:0.3px currentColor">0</span>&nbsp; Mujeres fallecidas</div>
<div class="t" style="top:696.00px;font-size:7px;color:#3a2e26;right:27.00px;text-align:right;transform:scaleX(1.01);transform-origin:right 50%;-webkit-text-stroke:0.1px currentColor;">en condiciones de</div>
<div class="t" style="top:704.00px;font-size:7px;color:#3a2e26;right:27.00px;text-align:right;-webkit-text-stroke:0.1px currentColor;">violencia, 2020</div>
<div class="t" style="top:731.00px;font-size:5.8px;color:#1a1a1a;left:326.10px;transform:scaleX(0.894);transform-origin:left 50%;-webkit-text-stroke:0.1px currentColor;">Nota: Los datos contemplan a los hogares empadronados en el Tercer Estudio Socioeconómico de Hogares 2018</div>
<div class="t" style="top:738.00px;font-size:5.8px;color:#1a1a1a;left:326.10px;transform:scaleX(0.894);transform-origin:left 50%;-webkit-text-stroke:0.1px currentColor;">(3ESH 2018).</div>
<div class="t" style="top:745.00px;font-size:5.8px;color:#1a1a1a;left:326.10px;transform:scaleX(0.877);transform-origin:left 50%;-webkit-text-stroke:0.1px currentColor;">La base de datos del SIUBEN cubre las áreas en prioridad I y II del Mapa de Pobreza del MEPyD y los residentes en</div>
<div class="t" style="top:752.00px;font-size:5.8px;color:#1a1a1a;left:326.10px;transform:scaleX(0.887);transform-origin:left 50%;-webkit-text-stroke:0.1px currentColor;">bolsones de pobreza del país, la cual actualmente abarca el 60.5% de la población nacional.</div>
<div class="t" style="top:760.00px;font-size:5.8px;color:#1a1a1a;left:326.10px;transform:scaleX(0.894);transform-origin:left 50%;-webkit-text-stroke:0.1px currentColor;">Fuentes: Base de datos 3ESH-2018 SIUBEN, certificada a septiembre 2021.</div>
<div class="t" style="top:767.00px;font-size:5.8px;color:#1a1a1a;left:326.10px;transform:scaleX(0.89);transform-origin:left 50%;-webkit-text-stroke:0.1px currentColor;">Registros administrativos de la Oficina de Estadísticas y Cartografía de la Policía Nacional.</div>
</div></body></html>
